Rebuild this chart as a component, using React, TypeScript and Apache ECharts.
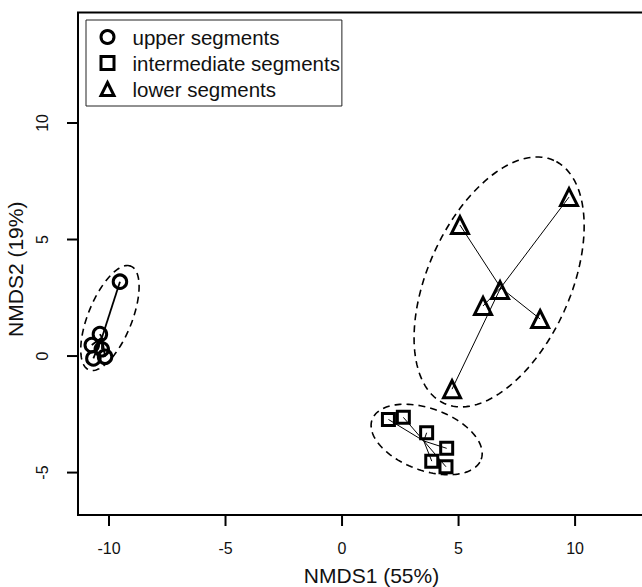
import React, { useEffect, useRef } from "react";
import * as echarts from "echarts";

const groups = ["upper segments", "intermediate segments", "lower segments"];

const upperX = [-9.53, -10.39, -10.74, -10.31, -10.67, -10.17];
const upperY = [3.19, 0.94, 0.47, 0.29, -0.1, -0.03];
const interX = [1.99, 2.63, 3.63, 4.49, 3.85, 4.46];
const interY = [-2.72, -2.63, -3.29, -3.96, -4.51, -4.75];
const lowerX = [5.06, 9.74, 6.78, 6.05, 8.5, 4.72];
const lowerY = [5.62, 6.82, 2.83, 2.15, 1.59, -1.42];

// ellipse: centre x, centre y, semi-major, semi-minor, angle (deg)
const upperEllipse = [-9.96, 1.63, 2.4, 0.94, 68];
const interEllipse = [3.63, -3.58, 2.49, 1.33, -20];
const lowerEllipse = [6.74, 3.18, 5.72, 3.06, 65.7];

const xTicks = [-10, -5, 0, 5, 10];
const yTicks = [-5, 0, 5, 10];

// plot frame extent (data units)
const X_MIN = -11.33;
const X_MAX = 14.33;
const Y_MIN = -6.82;
const Y_MAX = 14.74;
// axis extent, a little wider so the outward ticks sit inside the grid
const AX_X_MIN = -11.802;
const AX_Y_MIN = -7.292;

const FONT = "'Liberation Sans', Arial, sans-serif";
const TICK_LEN = 11;

const mean = (a: number[]) => a.reduce((s, v) => s + v, 0) / a.length;
const spider = (xs: number[], ys: number[]) => {
  const cx = mean(xs);
  const cy = mean(ys);
  return xs.map((x, i) => ({ coords: [[x, ys[i]], [cx, cy]] }));
};
const pts = (xs: number[], ys: number[]) => xs.map((x, i) => [x, ys[i]]);

const renderEllipse = (params: any, api: any) => {
  const cx = api.value(0);
  const cy = api.value(1);
  const a = api.value(2);
  const b = api.value(3);
  const ang = (api.value(4) * Math.PI) / 180;
  const points: number[][] = [];
  const n = 144;
  for (let k = 0; k < n; k++) {
    const t = (k / n) * Math.PI * 2;
    const ex = a * Math.cos(t);
    const ey = b * Math.sin(t);
    const x = cx + ex * Math.cos(ang) - ey * Math.sin(ang);
    const y = cy + ex * Math.sin(ang) + ey * Math.cos(ang);
    points.push(api.coord([x, y]));
  }
  return {
    type: "polygon",
    shape: { points },
    style: { fill: "none", stroke: "#000", lineWidth: 1.6, lineDash: [7, 5] },
  };
};

const renderFrame = (params: any, api: any) => {
  const p0 = api.coord([api.value(0), api.value(3)]);
  const p1 = api.coord([api.value(2), api.value(1)]);
  return {
    type: "rect",
    shape: { x: p0[0], y: p0[1], width: p1[0] - p0[0], height: p1[1] - p0[1] },
    style: { fill: "none", stroke: "#000", lineWidth: 2 },
  };
};

const renderXTick = (params: any, api: any) => {
  const p = api.coord([api.value(0), api.value(1)]);
  return {
    type: "line",
    shape: { x1: p[0], y1: p[1], x2: p[0], y2: p[1] + TICK_LEN },
    style: { stroke: "#000", lineWidth: 2 },
  };
};

const renderYTick = (params: any, api: any) => {
  const p = api.coord([api.value(0), api.value(1)]);
  return {
    type: "line",
    shape: { x1: p[0], y1: p[1], x2: p[0] - TICK_LEN, y2: p[1] },
    style: { stroke: "#000", lineWidth: 2 },
  };
};

export default function App() {
  const ref = useRef<HTMLDivElement>(null);
  useEffect(() => {
    if (!ref.current) return;
    const chart = echarts.init(ref.current, undefined, { renderer: "svg" });
    const markerStyle = { color: "none", borderColor: "#000", borderWidth: 3, opacity: 1 };
    chart.setOption({
      animation: false,
      grid: {
        left: 67,
        right: 24,
        top: 12.5,
        bottom: 61,
        outerBoundsMode: "none",
        show: false,
      },
      legend: {
        orient: "vertical",
        left: 86,
        top: 20,
        data: groups,
        itemWidth: 13,
        itemHeight: 13,
        itemGap: 5,
        padding: [6.5, 2, 6.5, 12.5],
        borderColor: "#222",
        borderWidth: 1,
        selectedMode: false,
        itemStyle: { color: "none", borderColor: "#000", borderWidth: 3 },
        textStyle: { fontSize: 20.5, fontFamily: FONT, color: "#111", padding: [0, 0, 0, 13.5] },
      },
      xAxis: {
        type: "value",
        min: AX_X_MIN,
        max: X_MAX,
        name: "NMDS1 (55%)",
        nameLocation: "middle",
        nameGap: 39,
        nameTextStyle: { fontSize: 21, fontFamily: FONT, color: "#111" },
        axisLine: { show: false, onZero: false },
        splitLine: { show: false },
        axisTick: { show: false },
        axisLabel: { customValues: xTicks, margin: 14, fontSize: 16, fontFamily: FONT, color: "#111" },
      },
      yAxis: {
        type: "value",
        min: AX_Y_MIN,
        max: Y_MAX,
        name: "NMDS2 (19%)",
        nameLocation: "middle",
        nameRotate: 90,
        nameGap: 28,
        nameTextStyle: { fontSize: 21, fontFamily: FONT, color: "#111" },
        axisLine: { show: false, onZero: false },
        splitLine: { show: false },
        axisTick: { show: false },
        axisLabel: { customValues: yTicks, rotate: 90, margin: 17, fontSize: 16, fontFamily: FONT, color: "#111" },
      },
      series: [
        {
          type: "custom",
          name: "frame",
          renderItem: renderFrame,
          data: [[X_MIN, Y_MIN, X_MAX, Y_MAX]],
          encode: { x: 0, y: 1 },
          silent: true,
          clip: false,
          z: 4,
        },
        {
          type: "custom",
          name: "x ticks",
          renderItem: renderXTick,
          data: xTicks.map((v) => [v, Y_MIN]),
          encode: { x: 0, y: 1 },
          silent: true,
          clip: false,
          z: 4,
        },
        {
          type: "custom",
          name: "y ticks",
          renderItem: renderYTick,
          data: yTicks.map((v) => [X_MIN, v]),
          encode: { x: 0, y: 1 },
          silent: true,
          clip: false,
          z: 4,
        },
        {
          type: "custom",
          name: "ellipses",
          renderItem: renderEllipse,
          data: [upperEllipse, interEllipse, lowerEllipse],
          dimensions: ["cx", "cy", "a", "b", "angle"],
          encode: { x: 0, y: 1 },
          silent: true,
          clip: false,
          z: 1,
        },
        {
          type: "lines",
          coordinateSystem: "cartesian2d",
          data: spider(upperX, upperY),
          lineStyle: { color: "#000", width: 1.8, opacity: 1 },
          silent: true,
          z: 2,
        },
        {
          type: "lines",
          coordinateSystem: "cartesian2d",
          data: [...spider(interX, interY), ...spider(lowerX, lowerY)],
          lineStyle: { color: "#000", width: 1, opacity: 1 },
          silent: true,
          z: 2,
        },
        {
          type: "scatter",
          name: groups[0],
          data: pts(upperX, upperY),
          symbol: "circle",
          symbolSize: 13.5,
          itemStyle: markerStyle,
          z: 3,
        },
        {
          type: "scatter",
          name: groups[1],
          data: pts(interX, interY),
          symbol: "rect",
          symbolSize: 12,
          itemStyle: markerStyle,
          z: 3,
        },
        {
          type: "scatter",
          name: groups[2],
          data: pts(lowerX, lowerY),
          symbol: "triangle",
          symbolSize: 17,
          itemStyle: markerStyle,
          z: 3,
        },
      ],
    });
    return () => chart.dispose();
  }, []);
  return (
    <div style={{ position: "absolute", left: 0, top: 0, width: 642, height: 587, overflow: "hidden", background: "#fff" }}>
      <div ref={ref} style={{ width: 700, height: 587 }} />
    </div>
  );
}
